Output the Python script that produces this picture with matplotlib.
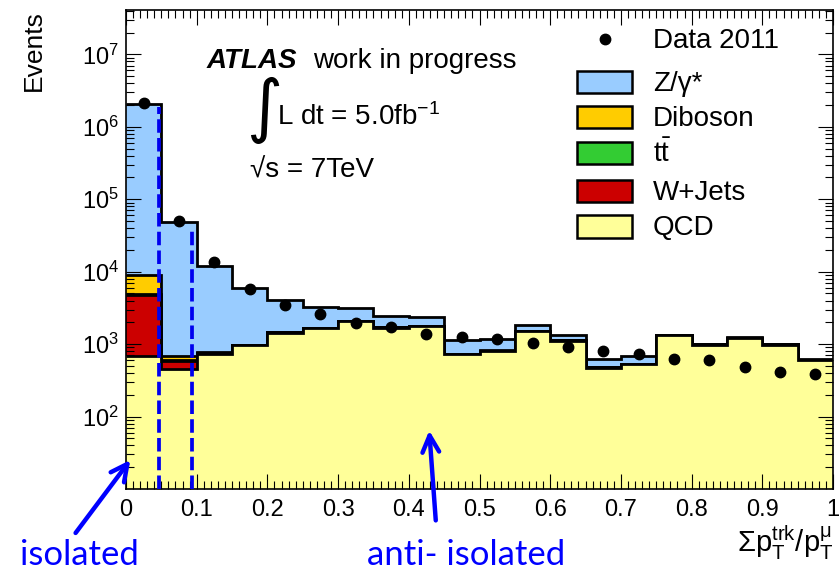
import matplotlib
matplotlib.use("Agg")
import matplotlib.pyplot as plt
import numpy as np
from matplotlib.ticker import LogLocator, MultipleLocator, NullFormatter, FuncFormatter
from matplotlib.patches import Rectangle

plt.rcParams['font.family'] = ['Liberation Sans', 'DejaVu Sans']
plt.rcParams['mathtext.fontset'] = 'custom'
plt.rcParams['mathtext.rm'] = 'Liberation Sans'
plt.rcParams['mathtext.it'] = 'Liberation Sans:italic'
plt.rcParams['mathtext.bf'] = 'Liberation Sans:bold'

# binning of sum pT(trk)/pT(mu)
edges = np.linspace(0, 1, 21)

# stacked MC contributions (events per bin)
qcd = [675, 460, 740, 960, 1440, 1660, 2060, 1690, 1780, 730,
       810, 1500, 1120, 475, 530, 1330, 985, 1220, 985, 605]
wjets = [4100, 130, 15, 12, 10, 8, 8, 6, 6, 4,
         4, 4, 3, 2, 2, 3, 3, 3, 3, 2]
ttbar = [150, 10, 4, 3, 3, 2, 2, 2, 2, 1,
         1, 1, 1, 1, 1, 1, 1, 1, 1, 1]
diboson = [4200, 75, 10, 6, 5, 4, 4, 3, 3, 2,
           2, 2, 2, 1, 1, 2, 2, 2, 2, 1]
zgamma = [2030000, 47300, 11200, 4920, 2640, 1630, 1030, 750, 610, 410,
          350, 320, 220, 140, 150, 15, 10, 15, 10, 10]

# data 2011
data = [2.1e6, 5.0e4, 1.35e4, 5700, 3500, 2570, 1950, 1700, 1380, 1260,
        1170, 1020, 900, 810, 730, 620, 600, 490, 415, 390]

# isolation cut lines (x position, height)
cut_x = [0.047, 0.094]
cut_top = [1.9e6, 4.0e4]

names = ['QCD', 'W+Jets', r'$\mathrm{t\bar{t}}$', 'Diboson', 'Z/γ*']
colors = ['#ffff99', '#cc0000', '#33cc33', '#ffcc00', '#99ccff']
components = [qcd, wjets, ttbar, diboson, zgamma]

fig = plt.figure(figsize=(8.4, 5.73), dpi=100)
ax = fig.add_axes([0.15, 0.1466, 0.8417, 0.836])

cum = np.cumsum(np.array(components, dtype=float), axis=0)
# draw from the top of the stack downwards
for i in range(len(components) - 1, -1, -1):
    ax.stairs(cum[i], edges, baseline=1, fill=True, facecolor=colors[i],
              edgecolor='none')
    ax.stairs(cum[i], edges, baseline=None, color='black', linewidth=2)

centers = 0.5 * (edges[:-1] + edges[1:])
ax.plot(centers, data, 'o', color='black', markersize=7.5, zorder=5)

for x, top in zip(cut_x, cut_top):
    ax.plot([x, x], [10, top], color='#0000ee', linewidth=2.7,
            linestyle=(0, (3.6, 1.4)), zorder=6)

ax.set_yscale('log')
ax.set_xlim(0, 1)
ax.set_ylim(10, 4.1e7)
ax.set_yticks([1e2, 1e3, 1e4, 1e5, 1e6, 1e7])
ax.yaxis.set_minor_locator(LogLocator(base=10, subs=range(2, 10), numticks=20))
ax.yaxis.set_minor_formatter(NullFormatter())
ax.set_xticks(np.arange(0, 1.01, 0.1))
ax.xaxis.set_minor_locator(MultipleLocator(0.01))
ax.xaxis.set_major_formatter(FuncFormatter(lambda v, p: f"{v:g}"))
ax.tick_params(which='both', direction='in', top=True, right=True,
               labelsize=17, width=0.8)
ax.tick_params(which='major', length=11)
ax.tick_params(which='minor', length=5.5)
ax.tick_params(axis='x', pad=7)
ax.tick_params(axis='y', pad=5)
for s in ax.spines.values():
    s.set_linewidth(1.2)

# ATLAS label
ax.text(0.1146, 0.879, 'ATLAS', transform=ax.transAxes, fontsize=20,
        fontweight='bold', fontstyle='italic', va='baseline')
ax.text(0.2645, 0.879, 'work in progress', transform=ax.transAxes,
        fontsize=20, va='baseline')
ax.text(0.170, 0.79, '∫', transform=ax.transAxes, fontsize=50,
        family='DejaVu Sans', va='center')
ax.text(0.2136, 0.760, r'L dt = 5.0fb$^{\mathdefault{-1}}$',
        transform=ax.transAxes, fontsize=20, va='baseline')
ax.text(0.175, 0.651, '√s = 7TeV', transform=ax.transAxes, fontsize=20,
        va='baseline')

# legend
ax.plot([0.677], [0.9385], 'o', color='black', markersize=7.5,
        transform=ax.transAxes, clip_on=False)
ax.text(0.745, 0.9385 - 0.0188, 'Data 2011', transform=ax.transAxes,
        fontsize=20, va='baseline')
row_y = [0.850, 0.777, 0.702, 0.623, 0.548]
for k, i in enumerate(range(len(components) - 1, -1, -1)):
    yc = row_y[k]
    ax.add_patch(Rectangle((0.638, yc - 0.023), 0.078, 0.046,
                           transform=ax.transAxes, facecolor=colors[i],
                           edgecolor='black', linewidth=1.8, zorder=7))
    ax.text(0.745, yc - 0.0188, names[i], transform=ax.transAxes,
            fontsize=20, va='baseline')

fig.text(0.04, 0.983, 'Events', rotation=90, ha='center', va='top', fontsize=19)
fig.text(0.9917, 0.037,
         r'$\Sigma\mathrm{p}_{\mathrm{T}}^{\mathrm{trk}}/\mathrm{p}_{\mathrm{T}}^{\mathrm{\mu}}$',
         ha='right', va='baseline', fontsize=21)

# isolated / anti-isolated annotations
fig.text(0.024, 0.014, 'isolated', color='blue', fontsize=25,
         family='Lato', va='baseline')
fig.text(0.437, 0.014, 'anti- isolated', color='blue', fontsize=25,
         family='Lato', va='baseline')
arrow = dict(arrowstyle='->', color='blue', lw=3.2, mutation_scale=30)
ax.annotate('', xy=(0.0085, 27), xycoords='data', xytext=(0.088, 0.066),
            textcoords='figure fraction', arrowprops=arrow,
            annotation_clip=False)
ax.annotate('', xy=(0.4286, 70), xycoords='data', xytext=(0.519, 0.087),
            textcoords='figure fraction', arrowprops=arrow,
            annotation_clip=False)

fig.savefig('out.png', dpi=100)
